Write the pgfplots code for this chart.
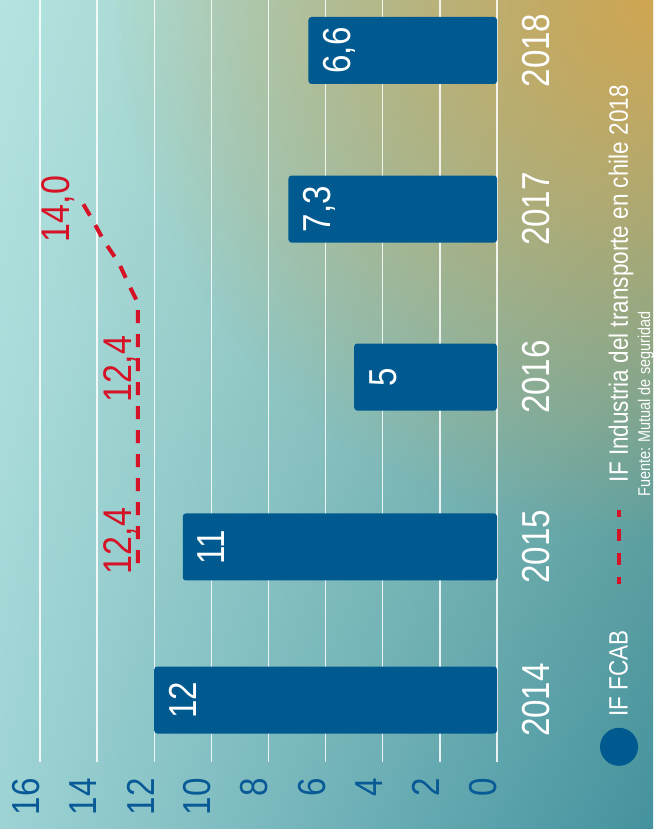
\documentclass[border=0pt]{standalone}
\usepackage{graphicx}
\usepackage{fontspec}
\setmainfont{Liberation Sans}[FakeStretch=0.85]
\usepackage{pgfplots}
\pgfplotsset{compat=1.18}
\usetikzlibrary{fadings,shadings}

\definecolor{barblue}{RGB}{0,90,143}
\definecolor{tickblue}{RGB}{8,90,150}
\definecolor{ifred}{RGB}{214,18,38}
% background corners (unrotated picture)
\definecolor{bgUL}{RGB}{158,211,212}
\definecolor{bgUR}{RGB}{180,228,225}
\definecolor{bgLL}{RGB}{68,146,158}
\definecolor{bgLR}{RGB}{135,182,165}
\definecolor{gold}{RGB}{208,166,82}

\tikzfading[name=glow, inner color=transparent!0, outer color=transparent!100]

\begin{document}
\rotatebox{90}{%
\begin{tikzpicture}
\useasboundingbox (0,0) rectangle (829pt,653pt);
\clip (0,0) rectangle (829pt,653pt);
\shade[upper left=bgUL, upper right=bgUR, lower left=bgLL, lower right=bgLR]
  (0,0) rectangle (829pt,653pt);
\fill[gold, path fading=glow] (829pt,0pt) circle (540pt);

\begin{axis}[
  at={(67pt,156pt)}, anchor=south west,
  width=773pt, height=457pt, scale only axis,
  xmin=-0.382, xmax=4.381,
  ymin=0, ymax=16,
  axis line style={draw=none},
  major tick length=0pt,
  xtick={0,0.943,1.99,3.025,4.002},
  xticklabels={2014,2015,2016,2017,2018},
  ytick={0,2,...,16},
  ymajorgrids,
  grid style={white, line width=1.3pt, opacity=0.85},
  /pgf/number format/assume math mode=true,
  /pgf/number format/use comma,
  tick label style={font=\fontsize{39}{40}\selectfont},
  xticklabel style={text=white, anchor=north, inner sep=0pt, yshift=-25pt},
  yticklabel style={text=tickblue, anchor=south east, inner sep=0pt, xshift=-16pt},
  legend columns=2,
  legend style={at={(axis description cs:-0.0052,-0.267)}, anchor=west,
    draw=none, fill=none, inner sep=0pt,
    font=\fontsize{26.5}{28}\selectfont,
    nodes={inner sep=0pt, text=white},
    /tikz/every even column/.append style={column sep=44pt}},
]

\addplot[ybar, bar width=67pt, fill=barblue, draw=none, rounded corners=3pt,
  nodes near coords, nodes near coords align={anchor=north},
  every node near coord/.append style={yshift=-15pt, text=white, inner sep=0pt,
    font=\fontsize{39}{40}\selectfont},
  legend image code/.code={\fill[barblue] (19pt,0pt) circle (19pt); \path (49pt,0pt);}]
coordinates {(0,12) (0.943,11) (1.99,5) (3.025,7.3) (4.002,6.6)};
\addlegendentry{IF FCAB}

\addplot[ifred, line width=4pt, dash pattern=on 13pt off 11pt, mark=none,
  legend image code/.code={\draw[ifred, line width=4.5pt, dash pattern=on 12pt off 12pt, dash phase=5pt] (0pt,0pt) -- (74pt,0pt); \path (100pt,0pt);}]
coordinates {(0.844,12.57) (2.446,12.57) (2.545,12.85) (2.693,13.24) (2.828,13.76) (2.964,14.18) (3.081,14.57)};
\addlegendentry{IF Industria del transporte en chile 2018}

\addplot[draw=none, mark=none, forget plot,
  nodes near coords, point meta=explicit symbolic,
  nodes near coords align={anchor=base},
  every node near coord/.append style={text=ifred, inner sep=0pt,
    font=\fontsize{40}{40}\selectfont}]
coordinates {(0.98,12.78) [{12,4}] (2.039,12.78) [{12,4}] (3.025,14.95) [{14,0}]};
\end{axis}

\node[anchor=base west, text=white, inner sep=0pt, font=\fontsize{17}{18}\selectfont]
  at (332pt,3pt) {Fuente: Mutual de seguridad};
\end{tikzpicture}}
\end{document}
